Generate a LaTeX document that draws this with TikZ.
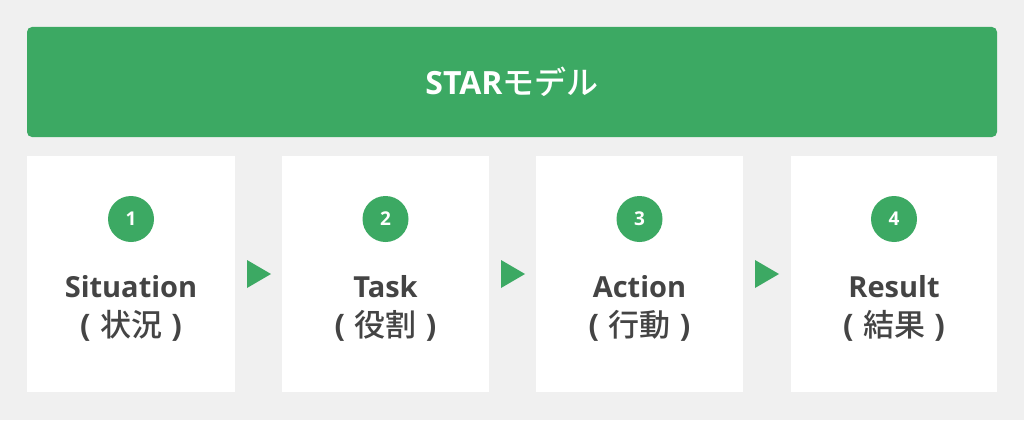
\documentclass[tikz,border=0pt]{standalone}
\usepackage{fontspec}
\usetikzlibrary{calc}
\setmainfont{Open Sans}
\newfontfamily\jpfont{Noto Sans CJK JP}
\newfontfamily\jpmed{Noto Sans CJK JP Medium}
\definecolor{bggray}{HTML}{F0F0F0}
\definecolor{stargreen}{HTML}{3CA963}
\definecolor{txtgray}{HTML}{444444}
\newcommand{\jpline}[1]{{\rmfamily\bfseries(}\hspace{0.3em}{\jpmed #1}\hspace{0.3em}{\rmfamily\bfseries)}}
\begin{document}
\begin{tikzpicture}[x=1pt,y=-1pt,
  banner/.style={fill=stargreen,rounded corners=5pt},
  card/.style={fill=white},
  numcirc/.style={circle,fill=stargreen,minimum size=46pt,inner sep=0pt,text=white,font=\fontsize{19}{19}\selectfont\bfseries},
  entitle/.style={anchor=base,text=txtgray,font=\fontsize{29}{29}\selectfont\bfseries,inner sep=0pt},
  jptitle/.style={anchor=center,text=txtgray,font=\fontsize{31}{31}\selectfont,inner sep=0pt},
  arrowtri/.style={fill=stargreen}
]
\fill[bggray] (0,0) rectangle (1024,420);
\useasboundingbox (0,0) rectangle (1024,420);
\fill[banner] (27,27) rectangle (997,137);
\node[text=white,inner sep=0pt,anchor=base] (title) at (512,94) {\fontsize{32}{32}\selectfont\bfseries STAR{\jpmed\mdseries\fontsize{32}{32}\selectfont モデル}};

\foreach \i/\xl/\xr/\en/\jp in {1/27/235/Situation/状況, 2/282/489/Task/役割, 3/536/743/Action/行動, 4/791/997/Result/結果}{
  \fill[card] (\xl,156) rectangle (\xr,392);
  \node[numcirc] (n\i) at ({(\xl+\xr)/2},219) {\i};
  \node[entitle] (e\i) at ({(\xl+\xr)/2},297) {\en};
  \node[jptitle] (j\i) at ({(\xl+\xr)/2},326) {\jpline{\jp}};
}
\foreach \cx/\k in {259/1,513/2,767/3}{
  \coordinate (t\k) at (\cx,274);
  \fill[arrowtri] ($(t\k)+(-12,-14)$) -- ($(t\k)+(-12,14)$) -- ($(t\k)+(12,0)$) -- cycle;
}
\end{tikzpicture}
\end{document}
